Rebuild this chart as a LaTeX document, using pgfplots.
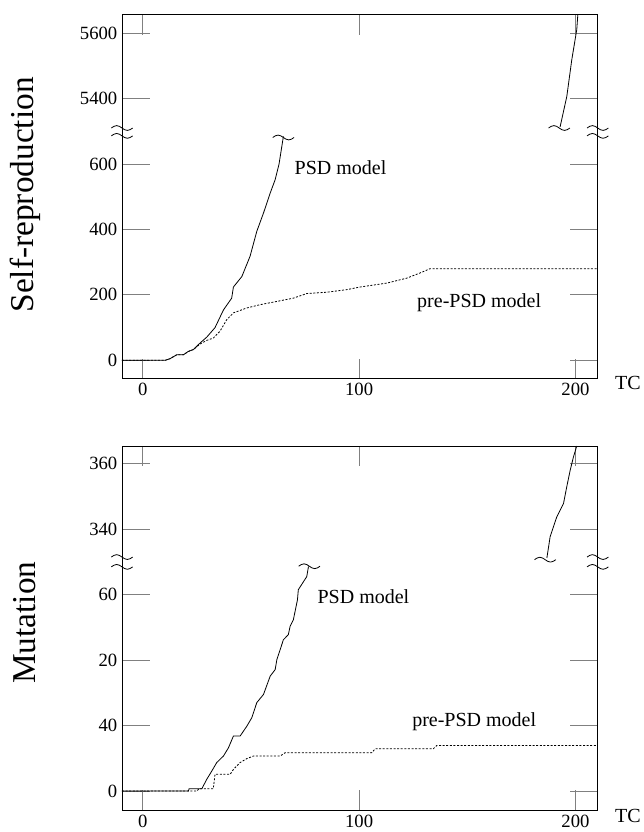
\documentclass[border=0pt]{standalone}
\usepackage{fontspec}
\setmainfont{Liberation Serif}
\usepackage{pgfplots}
\pgfplotsset{compat=1.18}

% small "~" wave, centred on a point
\newcommand{\brk}[1]{\draw[line width=0.6pt] (#1) ++(-8pt,-0.8pt) sin ++(4pt,1.8pt) cos ++(4pt,-1.8pt) sin ++(4pt,-1.8pt) cos ++(4pt,1.8pt);}

\tikzset{
  psd/.style={black, line width=0.6pt},
  pre/.style={black, line width=0.6pt, dash pattern=on 1.5pt off 1.2pt},
  lbl/.style={font=\fontsize{15}{17}\selectfont},
}
\pgfplotsset{
  panel/.style={
    scale only axis, width=356.8pt, height=273pt,
    xmin=-9.6, xmax=210.3,
    xtick={0,100,200}, xticklabels={0,100,200},
    axis line style={line width=0.6pt},
    xtick style={line width=0.6pt, /pgfplots/major tick length=15pt},
    ytick style={line width=0.6pt, /pgfplots/major tick length=21pt},
    tick align=inside,
    tick label style={font=\fontsize{14}{16}\selectfont},
    ylabel style={font=\fontsize{25}{28}\selectfont, anchor=center},
    clip=false,
  },
}

\begin{document}
\begin{tikzpicture}
\useasboundingbox (-91.5pt,-613pt) rectangle (390.75pt,11pt);

% ---- self-reproduction (upper part shifted down by 4600)
\begin{axis}[panel, at={(0,0)}, anchor=north west,
  ymin=-56, ymax=1056,
  ytick={0,200,400,600,800,1000},
  yticklabels={0,200,400,600,5400,5600},
  ylabel={Self-reproduction},
  ylabel style={at={(axis description cs:-0.204,0.505)}},
]
  \addplot[psd] coordinates {
    (-9.6,0) (10.3,0) (12.6,5) (15.7,17) (18.8,17) (21,27) (23.4,33)
    (26.5,53) (29.6,71) (33.4,100) (37.3,154) (41.1,190) (41.9,224)
    (45.8,256) (49.6,318) (52.7,394) (55.8,450) (58.9,511) (61.2,552)
    (63,600) (65,684)};
  \addplot[psd] coordinates {
    (192.9,713) (196,806) (198.3,918) (200.6,1010) (201.1,1056)};
  \addplot[pre] coordinates {
    (-9.6,0) (10.3,0) (12.6,5) (15.7,17) (18.8,17) (21,27) (23.4,33)
    (26.5,50) (29.6,61) (32.6,68) (35.7,89) (38.8,124) (41.9,145)
    (48.1,160) (54.2,170) (62,180) (69.6,190) (75.8,204) (85,208)
    (94.3,216) (100.5,224) (112.8,236) (122,251) (128.2,267)
    (132.8,280) (210.3,280)};
  \brk{axis cs:-9.6,713} \brk{axis cs:-9.6,689}
  \brk{axis cs:210.3,713} \brk{axis cs:210.3,689}
  \brk{axis cs:65,684} \brk{axis cs:192.5,713}
  \node[lbl] at (axis cs:91.4,588) {PSD model};
  \node[lbl] at (axis cs:155.5,176) {pre-PSD model};
  \node[lbl] at (axis cs:224.3,-68) {TC};
\end{axis}

% ---- mutation (upper part shifted down by 260)
\begin{axis}[panel, at={(0,-323.5pt)}, anchor=north west,
  ymin=-5.8, ymax=105.4,
  ytick={0,20,40,60,80,100},
  yticklabels={0,40,20,60,340,360},
  ylabel={Mutation},
  ylabel style={at={(axis description cs:-0.204,0.515)}},
]
  \addplot[psd] coordinates {
    (-9.6,0) (21.1,0) (21.4,0.7) (27.3,0.7) (29.6,3.6) (31.9,6.1)
    (34.2,8.7) (37.3,10.7) (39.6,13.2) (41.9,16.8) (45,16.8) (48.1,19.8)
    (50.4,22.4) (52.7,27) (55.8,29.5) (58.9,35.1) (61.2,37.1) (62,40.2)
    (63.5,43.2) (65,46.2) (67.3,47.8) (68.1,50.3) (69.6,52.3) (71.5,58.4)
    (71.9,61.5) (75.8,65.5) (76.6,68.6)};
  \addplot[psd] coordinates {
    (186.8,71.2) (188.3,77.7) (191.4,83.8) (194.5,87.9) (196,93)
    (197.6,98.1) (199.1,102.1) (200.6,105.4)};
  \addplot[pre] coordinates {
    (-9.6,0) (25,0) (26,0.7) (32.6,0.7) (33.4,5.1) (40.4,5.1) (41.9,6.6)
    (45,8.7) (48.1,9.9) (51.2,10.7) (63.5,10.7) (65.8,11.7) (105.9,11.7)
    (107.4,12.9) (134.3,12.9) (135.9,13.9) (210.3,13.9)};
  \brk{axis cs:-9.6,71.8} \brk{axis cs:-9.6,68.8}
  \brk{axis cs:210.3,71.8} \brk{axis cs:210.3,68.8}
  \brk{axis cs:77,69} \brk{axis cs:186,71}
  \node[lbl] at (axis cs:102,59.5) {PSD model};
  \node[lbl] at (axis cs:153.2,21.3) {pre-PSD model};
  \node[lbl] at (axis cs:224.3,-7.6) {TC};
\end{axis}
\end{tikzpicture}
\end{document}
